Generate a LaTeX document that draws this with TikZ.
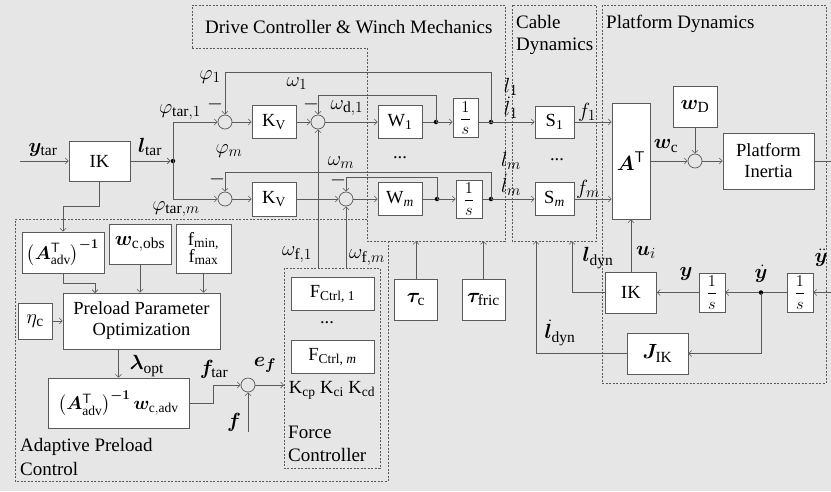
\RequirePackage{fix-cm}
\documentclass[tikz,border=0pt]{standalone}
\usepackage{amsmath}
\usepackage{bm}
\usepackage{fontspec}
\setmainfont{Liberation Serif}
\usetikzlibrary{arrows.meta}
\definecolor{bg}{RGB}{230,230,230}
\definecolor{ln}{RGB}{90,90,90}
\DeclareMathSizes{18.5}{18.5}{13.5}{10}
\DeclareMathSizes{20.5}{20.5}{15.5}{11}
\DeclareMathSizes{16.5}{16.5}{12}{9}
\newcommand{\myfs}{\fontsize{18.5}{21}\selectfont}
\newcommand{\ttlfs}{\fontsize{19}{21}\selectfont}
\newcommand{\mfs}{\fontsize{20.5}{23}\selectfont}
\newcommand{\smfs}{\fontsize{16.5}{17}\selectfont}
\begin{document}
\begin{tikzpicture}[x=1pt,y=-1pt,font=\myfs,
  box/.style={draw=ln,fill=white,line width=0.7pt,inner sep=0pt,align=center},
  sum/.style={circle,draw=ln,line width=0.7pt,minimum size=14pt,inner sep=0pt},
  dot/.style={circle,fill=black,minimum size=4.5pt,inner sep=0pt},
  wire/.style={draw=ln,line width=0.7pt},
  arr/.style={wire,-{Straight Barb[length=3pt,width=6pt,line width=0.6pt]}},
  region/.style={draw=ln,line width=0.6pt,dash pattern=on 2pt off 1.5pt},
  lbl/.style={inner sep=0pt,font=\mfs},
  rtitle/.style={anchor=base west,inner sep=0pt,font=\ttlfs}]
\fill[bg] (0,0) rectangle (831,491);
\useasboundingbox (0,0) rectangle (831,491);

% regions
\draw[region] (192,48) -- (367,48) -- (367,241) -- (505,241) -- (505,5) -- (192,5) -- cycle;
\draw[region] (367,219) -- (15,219) -- (15,481) -- (388,481) -- (388,241);
\draw[region] (512,5) rectangle (596,241);
\draw[region] (602,5) rectangle (826,383);
\draw[region] (284,268) rectangle (380,468);

\node[rtitle] (tdrive) at (205,33) {Drive Controller \& Winch Mechanics};
\node[rtitle] (tcab1) at (516,28) {Cable};
\node[rtitle] (tcab2) at (516,50) {Dynamics};
\node[rtitle] (tplat) at (606,28) {Platform Dynamics};
\node[rtitle] (tapc1) at (20,451) {Adaptive Preload};
\node[rtitle] (tapc2) at (20,475) {Control};
\node[rtitle] (tfc1) at (288,438) {Force};
\node[rtitle] (tfc2) at (288,461) {Controller};

% blocks
\node[box,minimum width=61pt,minimum height=40pt] (ik1) at (99.5,161) {IK};
\node[box,minimum width=44pt,minimum height=33pt] (kv1) at (274,122) {K\textsubscript{V}};
\node[box,minimum width=44pt,minimum height=34pt] (kv2) at (274,199) {K\textsubscript{V}};
\node[box,minimum width=44pt,minimum height=33pt] (w1) at (400,122) {W\textsubscript{1}};
\node[box,minimum width=44pt,minimum height=33pt] (wm) at (400,199) {W\textsubscript{\textit{m}}};
\node[box,minimum width=25pt,minimum height=39pt] (int1) at (465.5,118) {\smfs$\dfrac{1}{s}$};
\node[box,minimum width=26pt,minimum height=38pt] (intm) at (469,199) {\smfs$\dfrac{1}{s}$};
\node[box,minimum width=39pt,minimum height=32pt] (s1) at (554.5,122) {S\textsubscript{1}};
\node[box,minimum width=39pt,minimum height=33pt] (sm) at (554.5,199) {S\textsubscript{\textit{m}}};
\node[box,minimum width=38pt,minimum height=116pt,font=\mfs] (AT) at (631,161) {$\bm{A}^{\mathsf{T}}$};
\node[box,minimum width=44pt,minimum height=41pt,font=\mfs] (wD) at (695,106.5) {$\bm{w}_{\mathrm{D}}$};
\node[box,minimum width=91pt,minimum height=56pt] (PI) at (768.5,161) {Platform\\Inertia};
\node[box,minimum width=51pt,minimum height=41pt] (ik2) at (631,292.5) {IK};
\node[box,minimum width=26pt,minimum height=39pt] (inta) at (712,292.5) {\smfs$\dfrac{1}{s}$};
\node[box,minimum width=26pt,minimum height=39pt] (intb) at (800,292.5) {\smfs$\dfrac{1}{s}$};
\node[box,minimum width=61pt,minimum height=41pt,font=\mfs] (JIK) at (657.5,353.5) {$\bm{J}_{\mathrm{IK}}$};
\node[box,minimum width=43pt,minimum height=41pt,font=\mfs] (tauc) at (416,299.5) {$\bm{\tau}_{\mathrm{c}}$};
\node[box,minimum width=43pt,minimum height=41pt,font=\mfs] (taufr) at (483.5,299.5) {$\bm{\tau}_{\mathrm{fric}}$};
\node[box,minimum width=83pt,minimum height=33pt] (fc1) at (332.5,293.5) {F\textsubscript{Ctrl, 1}};
\node[box,minimum width=83pt,minimum height=33pt] (fcm) at (332.5,356.5) {F\textsubscript{Ctrl, \textit{m}}};
\node[box,minimum width=82pt,minimum height=41pt] (ainv) at (63,252.5) {$\left(\bm{A}^{\mathsf{T}}_{\mathrm{adv}}\right)^{\bm{-1}}$};
\node[box,minimum width=62pt,minimum height=40pt,font=\mfs] (wobs) at (140,244) {$\bm{w}_{\mathrm{c,obs}}$};
\node[box,minimum width=55pt,minimum height=49pt] (fmm) at (203.5,248.5) {f\textsubscript{min,}\\[-4pt]f\textsubscript{max}};
\node[box,minimum width=157pt,minimum height=56pt] (ppo) at (141.5,321) {Preload Parameter\\Optimization};
\node[box,minimum width=34pt,minimum height=36pt,font=\mfs] (eta) at (35,321) {$\eta_{\mathrm{c}}$};
\node[box,minimum width=141pt,minimum height=50pt] (ainvw) at (118.5,403) {$\left(\bm{A}^{\mathsf{T}}_{\mathrm{adv}}\right)^{\bm{-1}}\bm{w}_{\mathrm{c,adv}}$};

% junctions
\node[sum] (c1) at (225,122) {};
\node[sum] (c2) at (318,122) {};
\node[sum] (c3) at (225,199) {};
\node[sum] (c4) at (346,199) {};
\node[sum] (c5) at (695,161) {};
\node[sum] (c6) at (248,385) {};
\node[dot] (d0) at (173,161) {};
\node[dot] (d1) at (436,122) {};
\node[dot] (d2) at (491,122) {};
\node[dot] (d3) at (437,199) {};
\node[dot] (d4) at (491,199) {};
\node[dot] (d5) at (761,292.5) {};

% free ends
\coordinate (yin) at (20,161);
\coordinate (pout) at (831,161);
\coordinate (yddin) at (831,292.5);
\coordinate (cb1) at (572,241);
\coordinate (cb2) at (536,241);
\coordinate (db1) at (416,241);
\coordinate (db2) at (483.5,241);
\coordinate (fct1) at (318,268);
\coordinate (fctm) at (346,268);
\coordinate (fcl) at (284,385);
\coordinate (fin) at (248,432);
\coordinate (ppoa) at (95,293);

% connectors
\draw[arr] (yin) -- (ik1);
\draw[arr] (ik1) -- (d0);
\draw[arr] (d0.center) |- (c1);
\draw[arr] (d0.center) |- (c3);
\draw[arr] (c1) -- (kv1);
\draw[arr] (kv1) -- (c2);
\draw[arr] (c2) -- (w1);
\draw[wire] (w1) -- (d1);
\draw[arr] (d1.center) -- (int1.west |- d1.center);
\draw[wire] (int1.east |- d2.center) -- (d2.center);
\draw[arr] (d2.center) -- (s1);
\draw[arr] (s1) -- (s1 -| AT.west);
\draw[arr] (c3) -- (kv2);
\draw[arr] (kv2) -- (c4);
\draw[arr] (c4) -- (wm);
\draw[wire] (wm) -- (d3);
\draw[arr] (d3.center) -- (intm);
\draw[wire] (intm) -- (d4);
\draw[arr] (d4.center) -- (sm);
\draw[arr] (sm) -- (sm -| AT.west);
\draw[arr] (d2.center) -- ++(0,-50) -| (c1.north);
\draw[arr] (d1.center) -- ++(0,-27) -| (c2.north);
\draw[arr] (d4.center) -- ++(0,-27) -| (c3.north);
\draw[arr] (d3.center) -- ++(0,-22) -| (c4.north);
\draw[arr] (fct1) -- (c2);
\draw[arr] (fctm) -- (c4);
\draw[arr] (AT.east |- c5) -- (c5);
\draw[arr] (wD) -- (c5);
\draw[arr] (c5) -- (PI);
\draw[wire] (PI) -- (pout);
\draw[arr] (yddin) -- (intb);
\draw[wire] (intb) -- (d5);
\draw[arr] (d5) -- (inta);
\draw[arr] (inta) -- (ik2);
\draw[arr] (ik2) -- (AT);
\draw[arr] (ik2.west) -| (cb1);
\draw[arr] (d5.center) |- (JIK);
\draw[arr] (JIK.west) -| (cb2);
\draw[arr] (tauc) -- (db1);
\draw[arr] (taufr) -- (db2);
\draw[arr] (ik1.south) -- ++(0,25) -| (ainv.north);
\draw[arr] (ainv.south) -- ++(0,10) -| (ppoa);
\draw[arr] (wobs) -- (wobs |- ppo.north);
\draw[arr] (fmm) -- (fmm |- ppo.north);
\draw[arr] (eta) -- (ppo);
\draw[arr] (ainvw.north |- ppo.south) -- (ainvw.north);
\draw[arr] (ainvw.east) -- ++(24,0) |- (c6);
\draw[arr] (fin) -- (c6);
\draw[arr] (c6) -- (fcl);

% labels
\node[lbl] (lytar) at (43,150) {$\bm{y}_{\mathrm{tar}}$};
\node[lbl] (lltar) at (150,147) {$\bm{l}_{\mathrm{tar}}$};
\node[lbl] (lpt1) at (180,112) {$\varphi_{\mathrm{tar},1}$};
\node[lbl] (lptm) at (176,209) {$\varphi_{\mathrm{tar},m}$};
\node[lbl] (lphim) at (229,151) {$\varphi_m$};
\node[lbl] (lphi1) at (210,77) {$\varphi_1$};
\node[lbl] (lom1) at (297,84) {$\omega_1$};
\node[lbl] (lomd1) at (347,108) {$\omega_{\mathrm{d},1}$};
\node[lbl] (lomm) at (341,163) {$\omega_m$};
\node[lbl,font=\myfs] (ldots1) at (400,158) {...};
\node[lbl] (ll1) at (511,87) {$l_1$};
\node[lbl] (ll1d) at (511,108) {$\dot{l}_1$};
\node[lbl] (llm) at (511,161) {$l_m$};
\node[lbl] (llmd) at (511,185) {$\dot{l}_m$};
\node[lbl,font=\myfs] (ldots2) at (557,160) {...};
\node[lbl] (lf1) at (587,112) {$f_1$};
\node[lbl] (lfm) at (588,189) {$f_m$};
\node[lbl] (lwc) at (666,146) {$\bm{w}_{\mathrm{c}}$};
\node[lbl] (lui) at (646,252) {$\bm{u}_i$};
\node[lbl] (lldyn) at (598,258) {$\bm{l}_{\mathrm{dyn}}$};
\node[lbl] (lldynd) at (560,333) {$\dot{\bm{l}}_{\mathrm{dyn}}$};
\node[lbl] (ly) at (686,274) {$\bm{y}$};
\node[lbl] (lyd) at (761,274) {$\dot{\bm{y}}$};
\node[lbl] (lydd) at (821,258) {$\ddot{\bm{y}}$};
\node[lbl] (lomf1) at (297,255) {$\omega_{\mathrm{f},1}$};
\node[lbl] (lomfm) at (367,258) {$\omega_{\mathrm{f},m}$};
\node[lbl,font=\myfs] (ldots3) at (327,323) {...};
\node[lbl,font=\myfs] (lK) at (332,390) {K\textsubscript{cp} K\textsubscript{ci} K\textsubscript{cd}};
\node[lbl] (llam) at (147,366) {$\bm{\lambda}_{\mathrm{opt}}$};
\node[lbl] (lftar) at (214,369) {$\bm{f}_{\mathrm{tar}}$};
\node[lbl] (lef) at (265,365) {$\bm{e}_{\bm{f}}$};
\node[lbl] (lf) at (234,422) {$\bm{f}$};
\node[lbl] (m1) at (215,104) {$-$};
\node[lbl] (m2) at (311,104) {$-$};
\node[lbl] (m3) at (217,179) {$-$};
\node[lbl] (m4) at (338,180) {$-$};
\end{tikzpicture}
\end{document}
